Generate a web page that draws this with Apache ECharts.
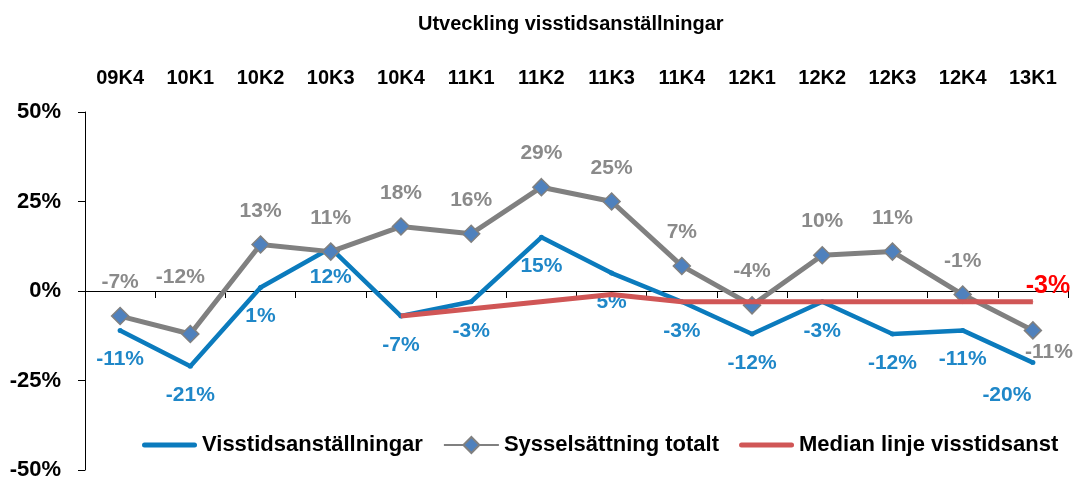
<!DOCTYPE html>
<html><head><meta charset="utf-8">
<script src="https://cdn.jsdelivr.net/npm/echarts@6/dist/echarts.min.js"></script>
<style>html,body{margin:0;padding:0;background:#fff}#c{width:1075px;height:481px}</style>
</head><body><div id="c"></div>
<script>
const categories = ['09K4','10K1','10K2','10K3','10K4','11K1','11K2','11K3','11K4','12K1','12K2','12K3','12K4','13K1'];
const visstid = [-11,-21,1,12,-7,-3,15,5,-3,-12,-3,-12,-11,-20];
const syssel = [-7,-12,13,11,18,16,29,25,7,-4,10,11,-1,-11];
const median = [null,null,null,null,-7,null,null,-1,-3,-3,-3,-3,-3,-3];
const yTicks = [-50,-25,0,25,50];

const FF = "'Liberation Sans',Arial,sans-serif";
const chart = echarts.init(document.getElementById('c'), null, {renderer:'canvas'});
const last = categories.length - 1;
const lineIcon = 'path://M2.5,0h50a2.5,2.5 0 0 1 0,5h-50a2.5,2.5 0 0 1 0,-5z';

const sysselLabelFix = {
  1: {offset:[-10,-23]},
  13: {position:'bottom', distance:2, offset:[16,0]}
};

chart.setOption({
  animation:false,
  title:{text:'Utveckling visstidsanställningar', left:413, top:9,
    textStyle:{fontFamily:FF, fontWeight:'bold', fontSize:20, color:'#000'}},
  legend:{left:137, top:429, itemWidth:55, itemHeight:20, itemGap:20,
    textStyle:{fontFamily:FF, fontWeight:'bold', fontSize:22, color:'#000'},
    data:[
      {name:'Visstidsanställningar', icon:lineIcon},
      {name:'Sysselsättning totalt'},
      {name:'Median linje visstidsanst', icon:lineIcon}
    ]},
  grid:{left:85, right:7, top:112, bottom:11, containLabel:false},
  xAxis:[
    {type:'category', data:categories, boundaryGap:true, position:'bottom',
     axisLine:{onZero:true, lineStyle:{color:'#000', width:1}},
     axisTick:{show:true, length:7, lineStyle:{color:'#000'}},
     axisLabel:{show:false}},
    {type:'category', data:categories, boundaryGap:true, position:'top',
     axisLine:{show:false}, axisTick:{show:false},
     axisLabel:{show:true, margin:24, fontFamily:FF, fontWeight:'bold', fontSize:20, color:'#000'}}
  ],
  yAxis:{type:'value', min:yTicks[0], max:yTicks[yTicks.length-1], interval:25,
    axisLine:{show:true, lineStyle:{color:'#000'}},
    axisTick:{show:true, length:7, lineStyle:{color:'#000'}},
    splitLine:{show:false},
    axisLabel:{margin:24, fontFamily:FF, fontWeight:'bold', fontSize:22, color:'#000',
      formatter:v=>v+'%'}},
  series:[
    {name:'Visstidsanställningar', type:'line', data:visstid.map((v,i)=>i===last?{value:v,label:{offset:[-26,4]}}:v),
     symbol:'circle', symbolSize:5, itemStyle:{color:'#0b7bbd'},
     lineStyle:{color:'#0b7bbd', width:4.5}, z:2,
     label:{show:true, position:'bottom', distance:16, formatter:p=>p.value+'%',
       fontFamily:FF, fontWeight:'bold', fontSize:21, color:'#1f87c8'}},
    {name:'Sysselsättning totalt', type:'line', data:syssel.map((v,i)=>sysselLabelFix[i]?{value:v,label:sysselLabelFix[i]}:v),
     symbol:'diamond', symbolSize:17, itemStyle:{color:'#4f81bd', borderColor:'#808080', borderWidth:1.5},
     lineStyle:{color:'#808080', width:5}, z:3,
     label:{show:true, position:'top', distance:14, formatter:p=>p.value+'%',
       fontFamily:FF, fontWeight:'bold', fontSize:21, color:'#8a8a8a'}},
    {name:'Median linje visstidsanst', type:'line', data:median.map((v,i)=>i===last?{value:v,label:{show:true}}:v),
     connectNulls:true, symbol:'circle', symbolSize:1, showSymbol:true,
     itemStyle:{color:'#d05656'}, lineStyle:{color:'#d05656', width:5}, z:4,
     label:{show:false, position:'top', distance:3, offset:[15,0], formatter:p=>p.value+'%',
       fontFamily:FF, fontWeight:'bold', fontSize:25, color:'#ff0000'}}
  ]
});
</script></body></html>
